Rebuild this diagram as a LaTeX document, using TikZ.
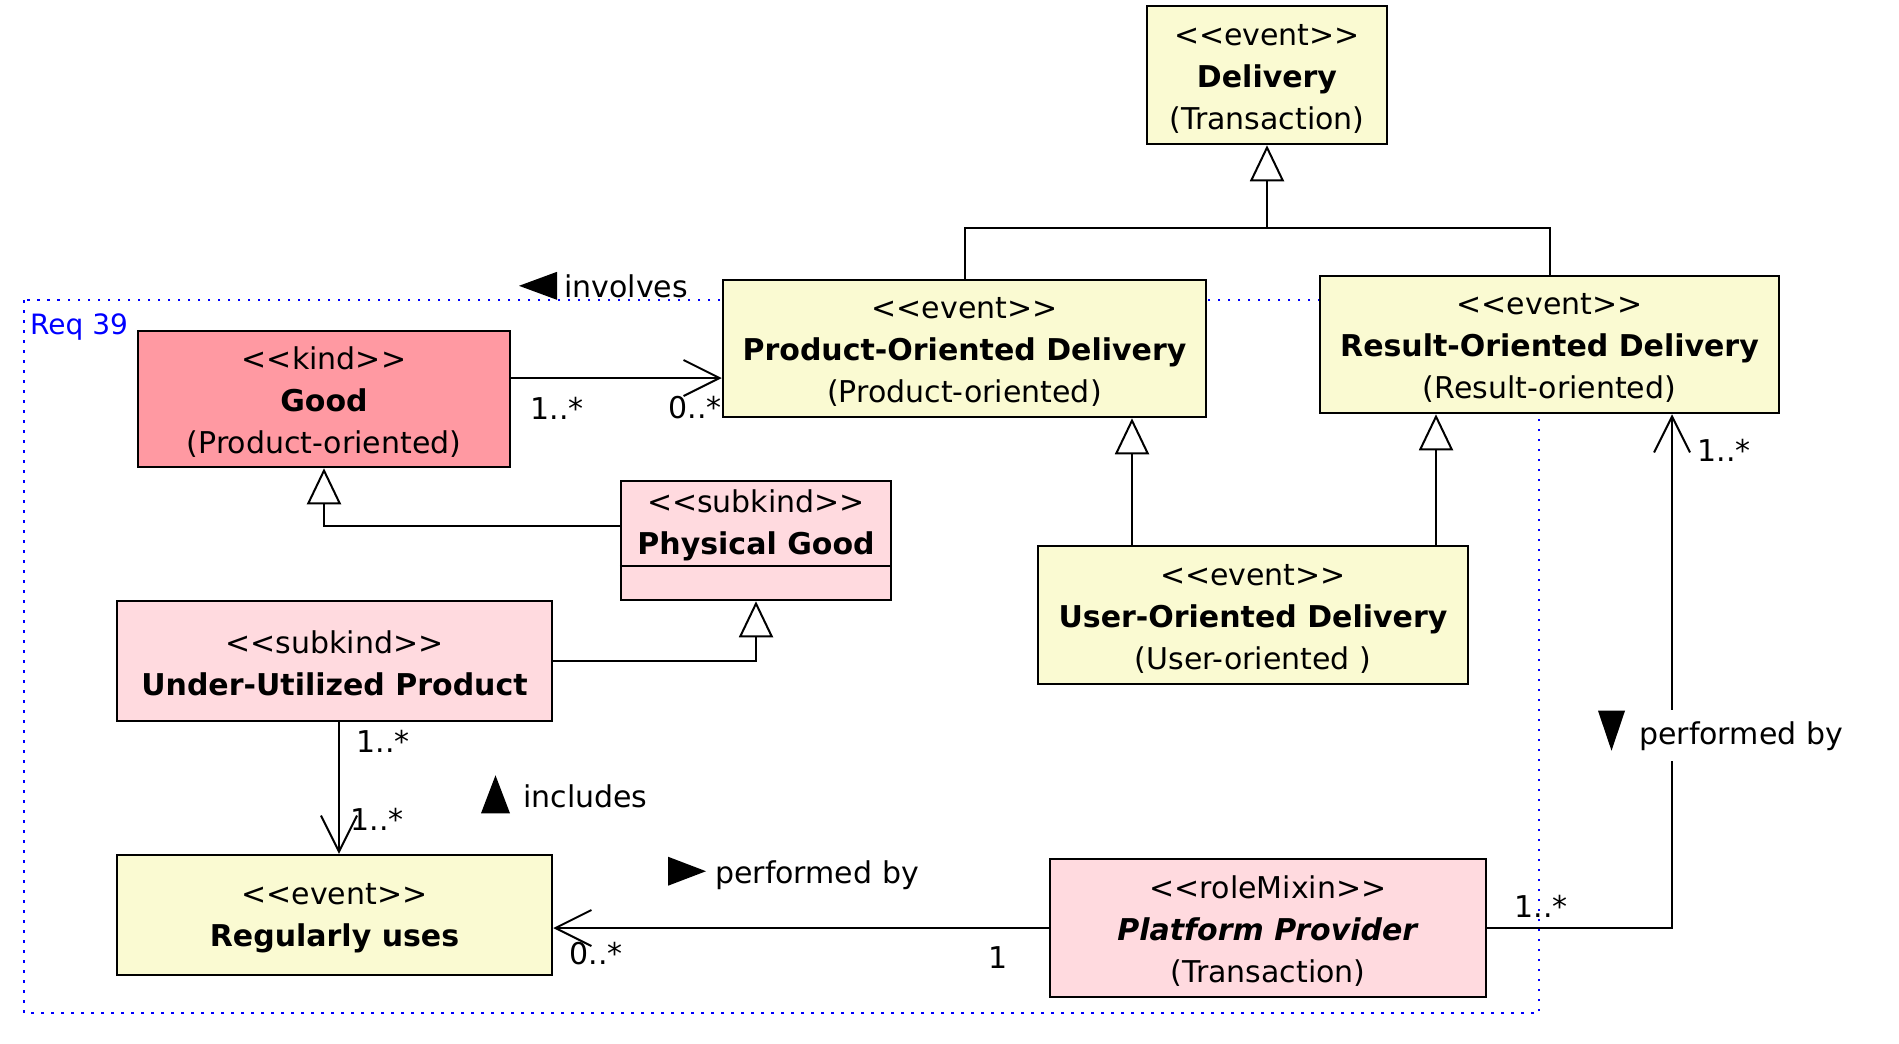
\documentclass[tikz,border=0pt]{standalone}
\usepackage{fontspec}
\setmainfont{DejaVu Sans}[Ligatures=TeXOff]
\usetikzlibrary{arrows.meta,calc}
\definecolor{evtfill}{RGB}{250,250,210}
\definecolor{kindfill}{RGB}{255,153,162}
\definecolor{subfill}{RGB}{255,218,223}
\definecolor{reqblue}{RGB}{0,0,255}
\newcommand{\toppad}{\rule{0pt}{28pt}}
\begin{document}
\begin{tikzpicture}[x=1pt,y=-1pt,
  every node/.style={font=\fontsize{30}{42}\selectfont},
  cls/.style={draw=black, line width=2.5pt, align=center, inner sep=0pt},
  evt/.style={cls, fill=evtfill},
  knd/.style={cls, fill=kindfill},
  sub/.style={cls, fill=subfill},
  conn/.style={line width=2pt},
  gen/.style={conn, -{Triangle[length=36pt, width=34pt, fill=white]}},
  nav/.style={conn, -{Straight Barb[length=36pt, width=36pt]}},
  mult/.style={inner sep=0pt},
  assoc/.style={inner sep=0pt, anchor=base west},
  reqframe/.style={draw=reqblue, line width=2.5pt, dash pattern=on 2.5pt off 7.5pt}
]
\useasboundingbox (0,0) rectangle (1899,1044);

% requirement frame
\draw[reqframe] (24,300) rectangle (1539,1013);
\node[anchor=west, text=reqblue, font=\fontsize{28}{32}\selectfont, inner sep=0pt] (req) at (30,327) {Req 39};

% classes
\node[evt, minimum width=240pt, minimum height=138pt] (del) at (1267,75)
  {\toppad<<event>>\\\textbf{Delivery}\\(Transaction)};
\node[evt, minimum width=483pt, minimum height=137pt] (pod) at (964.5,348.5)
  {\toppad<<event>>\\\textbf{Product-Oriented Delivery}\\(Product-oriented)};
\node[evt, minimum width=459pt, minimum height=137pt] (rod) at (1549.5,344.5)
  {\toppad<<event>>\\\textbf{Result-Oriented Delivery}\\(Result-oriented)};
\node[knd, minimum width=372pt, minimum height=136pt] (good) at (324,399)
  {\toppad<<kind>>\\\textbf{Good}\\(Product-oriented)};
\node[sub, minimum width=270pt, minimum height=119pt] (pg) at (756,540.5) {};
\coordinate (pgsep) at (0,566);
\draw[line width=2.5pt] (pgsep -| pg.west) -- (pgsep -| pg.east);
\node[inner sep=0pt, align=center] (pgt) at (756,523) {\toppad<<subkind>>\\\textbf{Physical Good}};
\node[sub, minimum width=435pt, minimum height=120pt] (uup) at (334.5,661)
  {\toppad<<subkind>>\\\textbf{Under-Utilized Product}};
\node[evt, minimum width=430pt, minimum height=138pt] (uod) at (1253,615)
  {\toppad<<event>>\\\textbf{User-Oriented Delivery}\\(User-oriented\ )};
\node[evt, minimum width=435pt, minimum height=120pt] (reg) at (334.5,915)
  {\toppad<<event>>\\\textbf{Regularly uses}};
\node[sub, minimum width=436pt, minimum height=138pt] (pp) at (1268,928)
  {\toppad<<roleMixin>>\\\textbf{\textit{Platform Provider}}\\(Transaction)};

% generalizations
\coordinate (gj) at (1267,228);
\draw[conn] (pod.north) |- (gj);
\draw[conn] (rod.north) |- (gj);
\draw[gen] (gj) -- (del.south);
\coordinate (u1) at ([xshift=-121pt]uod.north);
\draw[gen] (u1) -- (u1 |- pod.south);
\coordinate (u2) at ([xshift=183pt]uod.north);
\draw[gen] (u2) -- (u2 |- rod.south);
\draw[gen] ([yshift=14.5pt]pg.west) -| (good.south);
\draw[gen] (uup.east) -| (pg.south);

% associations
\coordinate (a1) at ([yshift=21pt]good.east);
\draw[nav] (a1) -- (a1 -| pod.west);
\draw[nav] ([xshift=4.5pt]uup.south) -- ([xshift=4.5pt]reg.north);
\draw[nav] (pp.west) -- (pp.west -| reg.east);
\draw[nav] (pp.east) -| ([xshift=122.5pt]rod.south);

% multiplicities
\node[mult] (m1) at (557,408) {1..*};
\node[mult] (m2) at (695,408) {0..*};
\node[mult] (m3) at (383,741) {1..*};
\node[mult] (m4) at (377,819) {1..*};
\node[mult] (m5) at (596,954) {0..*};
\node[mult] (m6) at (998,958) {1};
\node[mult] (m7) at (1541,906) {1..*};
\node[mult] (m8) at (1724,450) {1..*};

% association names
\node[assoc] (linv) at (564,297) {involves};
\fill ($(linv.west)+(-7,0)$) -- ++(0,-14) -- ++(-38,14) -- ++(38,14) -- cycle;
\node[assoc] (linc) at (523,807) {includes};
\fill ($(linc.west)+(-13,17.5)$) -- ++(-29,0) -- ++(14.5,-38) -- cycle;
\node[assoc] (lpb) at (715,883) {performed by};
\fill ($(lpb.west)+(-47,-18)$) -- ++(0,29) -- ++(38,-14.5) -- cycle;
\node[assoc, fill=white, inner ysep=11pt] (lpr) at (1639,744) {performed by};
\fill ($(lpr.west)+(-41,-25)$) -- ++(27,0) -- ++(-13.5,40) -- cycle;
\end{tikzpicture}
\end{document}
